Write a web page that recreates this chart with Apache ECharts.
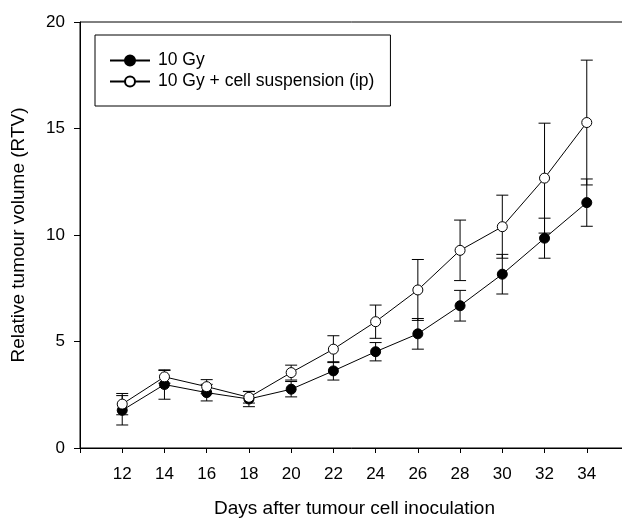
<!DOCTYPE html>
<html>
<head>
<meta charset="utf-8">
<script src="https://cdn.jsdelivr.net/npm/echarts@6/dist/echarts.min.js"></script>
<style>
  html, body { margin: 0; padding: 0; background: #fff; }
  #chart { width: 622px; height: 518px; }
</style>
</head>
<body>
<div id="chart"></div>
<script>
  // data
  var days = [12, 14, 16, 18, 20, 22, 24, 26, 28, 30, 32, 34];
  var gy10 = [1.77, 2.98, 2.60, 2.30, 2.76, 3.62, 4.52, 5.36, 6.68, 8.16, 9.85, 11.52];
  var gy10Err = [0.69, 0.69, 0.39, 0.36, 0.36, 0.43, 0.43, 0.72, 0.72, 0.93, 0.94, 1.11];
  var cellIp = [2.06, 3.34, 2.88, 2.38, 3.54, 4.64, 5.93, 7.42, 9.28, 10.39, 12.67, 15.28];
  var cellIpErr = [0.50, 0.30, 0.33, 0.27, 0.35, 0.63, 0.78, 1.43, 1.42, 1.48, 2.58, 2.93];
  var yTicks = [0, 5, 10, 15, 20];
  var seriesNames = ["10 Gy", "10 Gy + cell suspension (ip)"];

  var font = "'Liberation Sans', Arial, sans-serif";

  function pairs(vals) {
    return days.map(function (d, i) { return [d, vals[i]]; });
  }
  function errRows(vals, errs) {
    return days.map(function (d, i) { return [d, vals[i] - errs[i], vals[i] + errs[i]]; });
  }

  // vertical bar with caps
  function renderErr(params, api) {
    var top = api.coord([api.value(0), api.value(2)]);
    var bot = api.coord([api.value(0), api.value(1)]);
    var w = 6;
    var st = { stroke: "#000", lineWidth: 1 };
    return {
      type: "group",
      children: [
        { type: "line", shape: { x1: top[0], y1: top[1], x2: bot[0], y2: bot[1] }, style: st },
        { type: "line", shape: { x1: top[0] - w, y1: top[1], x2: top[0] + w, y2: top[1] }, style: st },
        { type: "line", shape: { x1: bot[0] - w, y1: bot[1], x2: bot[0] + w, y2: bot[1] }, style: st }
      ]
    };
  }

  var chart = echarts.init(document.getElementById("chart"));
  chart.setOption({
    animation: false,
    backgroundColor: "#fff",
    textStyle: { fontFamily: font, color: "#000" },
    grid: {
      left: 80,
      top: 22,
      bottom: 70,
      right: -7,
      outerBoundsMode: "none",
      containLabel: false,
      show: true,
      borderColor: "#000",
      borderWidth: 1
    },
    legend: {
      data: seriesNames,
      orient: "vertical",
      left: 95,
      top: 35,
      itemWidth: 40,
      itemHeight: 12.5,
      itemGap: 0,
      padding: [15, 16, 14, 14],
      borderColor: "#000",
      borderWidth: 1,
      textStyle: { fontFamily: font, fontSize: 17.5, color: "#000", lineHeight: 21, padding: [0, 0, 0, 3] }
    },
    xAxis: {
      type: "value",
      min: 10,
      max: 36,
      interval: 2,
      name: "Days after tumour cell inoculation",
      nameLocation: "middle",
      nameGap: 51,
      nameTextStyle: { fontFamily: font, fontSize: 19, color: "#000" },
      axisLine: { lineStyle: { color: "#000", width: 1 } },
      axisTick: { length: 5, lineStyle: { color: "#000" } },
      axisLabel: {
        fontSize: 17,
        color: "#000",
        margin: 18,
        formatter: function (v) { return v >= 12 && v <= 34 ? String(v) : ""; }
      },
      splitLine: { show: false }
    },
    yAxis: {
      type: "value",
      min: yTicks[0],
      max: yTicks[yTicks.length - 1],
      interval: 5,
      name: "Relative tumour volume (RTV)",
      nameLocation: "middle",
      nameGap: 52,
      nameTextStyle: { fontFamily: font, fontSize: 19, color: "#000" },
      axisLine: { show: true, lineStyle: { color: "#000", width: 1 } },
      axisTick: { show: true, length: 6, lineStyle: { color: "#000" } },
      axisLabel: { fontSize: 17, color: "#000", margin: 15 },
      splitLine: { show: false }
    },
    series: [
      {
        type: "custom",
        z: 1,
        silent: true,
        renderItem: renderErr,
        encode: { x: 0, y: [1, 2] },
        data: errRows(gy10, gy10Err)
      },
      {
        type: "custom",
        z: 1,
        silent: true,
        renderItem: renderErr,
        encode: { x: 0, y: [1, 2] },
        data: errRows(cellIp, cellIpErr)
      },
      {
        name: seriesNames[0],
        type: "line",
        z: 2,
        symbol: "circle",
        symbolSize: 10,
        lineStyle: { color: "#000", width: 1 },
        itemStyle: { color: "#000", borderColor: "#000", borderWidth: 1 },
        data: pairs(gy10)
      },
      {
        name: seriesNames[1],
        type: "line",
        z: 3,
        symbol: "circle",
        symbolSize: 10,
        lineStyle: { color: "#000", width: 1 },
        itemStyle: { color: "#fff", borderColor: "#000", borderWidth: 1 },
        data: pairs(cellIp)
      }
    ]
  });
</script>
</body>
</html>
